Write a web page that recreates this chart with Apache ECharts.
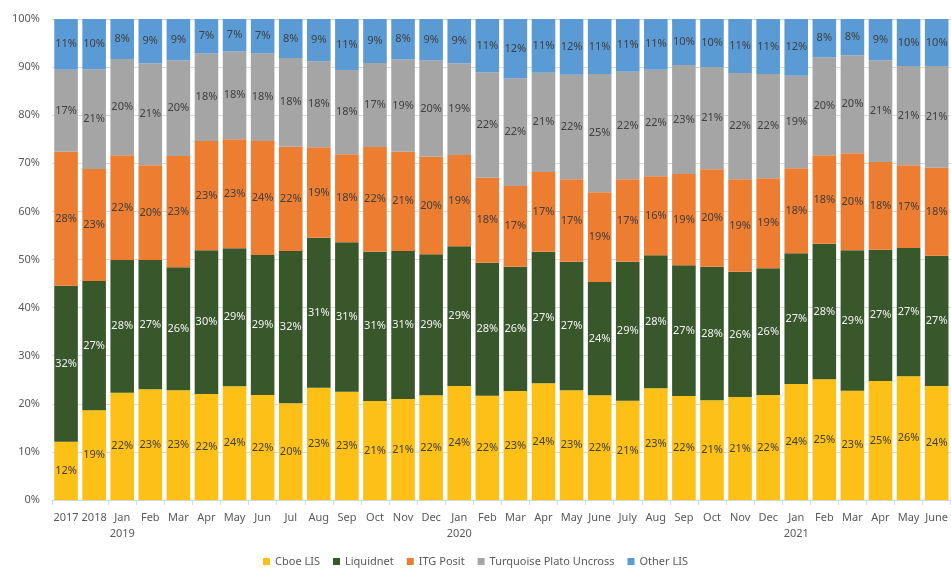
<!DOCTYPE html>
<html><head><meta charset="utf-8">
<script src="https://cdn.jsdelivr.net/npm/echarts@6/dist/echarts.min.js"></script>
<style>html,body{margin:0;padding:0;background:#fff}#chart{width:951px;height:569px}</style>
</head><body><div id="chart"></div>
<script>
const categories = ['2017','2018','Jan\n2019','Feb','Mar','Apr','May','Jun','Jul','Aug','Sep','Oct','Nov','Dec','Jan\n2020','Feb','Mar','Apr','May','June','July','Aug','Sep','Oct','Nov','Dec','Jan\n2021','Feb','Mar','Apr','May','June'];
const seriesNames = ['Cboe LIS','Liquidnet','ITG Posit','Turquoise Plato Uncross','Other LIS'];
const cboeLIS   = [12.12,18.65,22.31,23.01,22.81,22.04,23.64,21.83,20.10,23.35,22.52,20.58,21.00,21.77,23.70,21.68,22.66,24.26,22.81,21.77,20.64,23.22,21.62,20.73,21.41,21.83,24.12,25.09,22.72,24.74,25.72,23.70];
const liquidnet = [32.43,26.88,27.59,26.89,25.57,29.87,28.69,29.11,31.67,31.18,31.06,31.04,30.77,29.31,29.04,27.65,25.84,27.36,26.73,23.54,28.90,27.65,27.17,27.77,26.05,26.34,27.17,28.20,29.19,27.30,26.67,27.09];
const itgPosit  = [27.86,23.28,21.76,19.68,23.14,22.73,22.66,23.70,21.68,18.80,18.29,21.77,20.64,20.29,18.99,17.67,16.78,16.58,17.13,18.66,17.13,16.43,18.99,20.25,19.21,18.71,17.67,18.40,20.17,18.23,17.19,18.30];
const turquoise = [17.05,20.73,20.02,21.21,19.89,18.23,18.29,18.23,18.44,17.87,17.53,17.45,19.21,20.04,19.06,21.92,22.39,20.64,21.75,24.60,22.38,22.16,22.66,21.27,22.10,21.69,19.25,20.34,20.37,21.14,20.65,21.14];
const otherLIS  = [10.54,10.46,8.32,9.21,8.59,7.13,6.72,7.13,8.11,8.80,10.60,9.15,8.38,8.59,9.21,11.08,12.33,11.16,11.58,11.43,10.95,10.54,9.56,9.98,11.23,11.43,11.79,7.97,7.55,8.59,9.77,9.77];
const yTicks = [0,10,20,30,40,50,60,70,80,90,100];

const colors = ['#FCC016','#38572B','#ED7D31','#A5A5A5','#5B9BD5'];
const labelColors = ['#404040','#F2F2F2','#404040','#404040','#404040'];
const values = [cboeLIS, liquidnet, itgPosit, turquoise, otherLIS];
const FONT = 'Noto Sans';

const chart = echarts.init(document.getElementById('chart'), null, {renderer:'canvas'});
chart.setOption({
  animation:false,
  backgroundColor:'#fff',
  textStyle:{fontFamily:FONT},
  grid:{left:52, top:19, width:903, height:481, containLabel:false},
  legend:{
    data:seriesNames, top:551, left:'center', icon:'rect',
    itemWidth:7, itemHeight:7, itemGap:13,
    textStyle:{color:'#595959', fontSize:11, fontFamily:FONT}
  },
  xAxis:{
    type:'category', data:categories, boundaryGap:true,
    axisLine:{show:true, lineStyle:{color:'#D9D9D9', width:1}},
    axisTick:{show:true, length:5, lineStyle:{color:'#D9D9D9'}, interval:(i)=> i!==1},
    axisLabel:{interval:0, color:'#595959', fontSize:11, fontFamily:FONT, margin:10, lineHeight:16}
  },
  yAxis:{
    type:'value', min:yTicks[0], max:yTicks[yTicks.length-1], interval:10,
    axisLine:{show:false}, axisTick:{show:false},
    axisLabel:{formatter:'{value}%', color:'#595959', fontSize:11, fontFamily:FONT, margin:12},
    splitLine:{lineStyle:{color:'#D9D9D9', width:1}}
  },
  series: seriesNames.map((n,k)=>({
    name:n, type:'bar', stack:'total', barWidth:'84%',
    data:values[k],
    itemStyle:{color:colors[k]},
    label:{show:true, position:'inside', color:labelColors[k], fontSize:11, fontFamily:FONT,
      formatter:p=>Math.round(p.value)+'%'}
  }))
});
</script>
</body></html>
